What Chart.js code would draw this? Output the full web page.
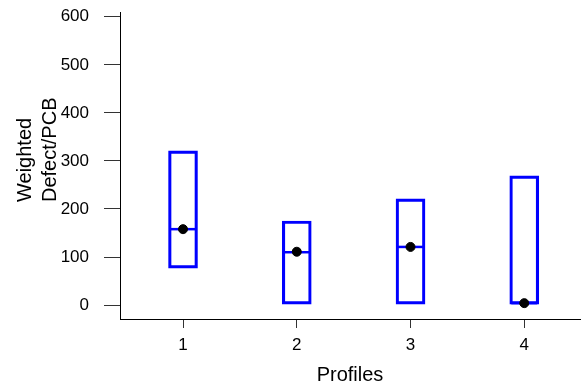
<!DOCTYPE html>
<html><head><meta charset="utf-8">
<script src="https://cdn.jsdelivr.net/npm/chart.js@4/dist/chart.umd.min.js"></script>
<style>html,body{margin:0;padding:0;background:#fff}</style>
</head><body>
<canvas id="c" width="582" height="386"></canvas>
<script>
// ---- data ----
const profiles = [1, 2, 3, 4];
const boxLow   = [77, 2, 2, 2];
const boxHigh  = [321, 175, 221, 269];
const medians  = [158, 110, 121, 4];
const means    = [158, 111, 121, 4];
const yTicks   = [0, 100, 200, 300, 400, 500, 600];
const xTitle   = 'Profiles';
const yTitle   = ['Weighted', 'Defect/PCB'];

// ---- styling constants ----
const BLUE = '#0000ff';
const Y_TITLE_RAISE = 117;

Chart.defaults.font.family = "'Liberation Sans', Arial, sans-serif";

const boxData    = profiles.map((p, i) => ({x: p, y: [boxLow[i], boxHigh[i]]}));
const medianData = profiles.map((p, i) => ({x: p, y: medians[i]}));
const meanData   = profiles.map((p, i) => ({x: p, y: means[i]}));

new Chart(document.getElementById('c'), {
  type: 'bar',
  data: {
    datasets: [
      { type: 'scatter', data: meanData, order: 0,
        pointStyle: 'circle', pointRadius: 4.5, pointHoverRadius: 4.5,
        backgroundColor: '#000', borderColor: '#000', borderWidth: 1 },
      { type: 'scatter', data: medianData, order: 1,
        pointStyle: 'line', pointRadius: 13, pointHoverRadius: 13,
        borderColor: BLUE, borderWidth: 2.5, backgroundColor: BLUE },
      { type: 'bar', data: boxData, order: 2,
        barThickness: 29, borderWidth: 2.5, borderColor: BLUE,
        backgroundColor: 'rgba(255,255,255,0)', borderSkipped: false }
    ]
  },
  options: {
    responsive: false,
    animation: false,
    events: [],
    layout: { autoPadding: false, padding: { top: 12, right: 2, left: 0, bottom: 0 } },
    plugins: { legend: { display: false }, tooltip: { enabled: false } },
    scales: {
      x: {
        type: 'linear', min: 0.446, max: 4.49, offset: false,
        afterBuildTicks: s => { s.ticks = profiles.map(v => ({value: v})); },
        afterFit: s => { s.height = 67; s.paddingLeft = 0; s.paddingRight = 0; },
        grid: { drawOnChartArea: false, offset: false, drawTicks: true, tickLength: 9, color: '#333' },
        border: { display: true, color: '#000', width: 1 },
        ticks: { padding: 7, color: '#000', font: { size: 17 }, maxRotation: 0, autoSkip: false },
        title: { display: true, text: xTitle, color: '#000',
                 font: { size: 20, lineHeight: 1.1 }, padding: { top: 0, bottom: 0 } }
      },
      y: {
        type: 'linear', min: -29, max: 610,
        afterBuildTicks: s => { s.ticks = yTicks.map(v => ({value: v})); },
        afterFit: s => { s.width = 120; s.paddingTop = 0; s.paddingBottom = 0; },
        afterUpdate: s => {
          if (s._titlePatched) return;
          s._titlePatched = true;
          const orig = s.drawTitle;
          s.drawTitle = function () {
            const ctx = this.ctx;
            ctx.save();
            ctx.translate(0, -Y_TITLE_RAISE);
            orig.call(this);
            ctx.restore();
          };
        },
        grid: { drawOnChartArea: false, drawTicks: true, tickLength: 16, color: '#333' },
        border: { display: true, color: '#000', width: 1 },
        ticks: { padding: 15, color: '#000', font: { size: 17 } },
        title: { display: true, text: yTitle, align: 'start', color: '#000',
                 font: { size: 20, lineHeight: 1.25 }, padding: { top: 12.5, bottom: 0 } }
      }
    }
  }
});
</script>
</body></html>
